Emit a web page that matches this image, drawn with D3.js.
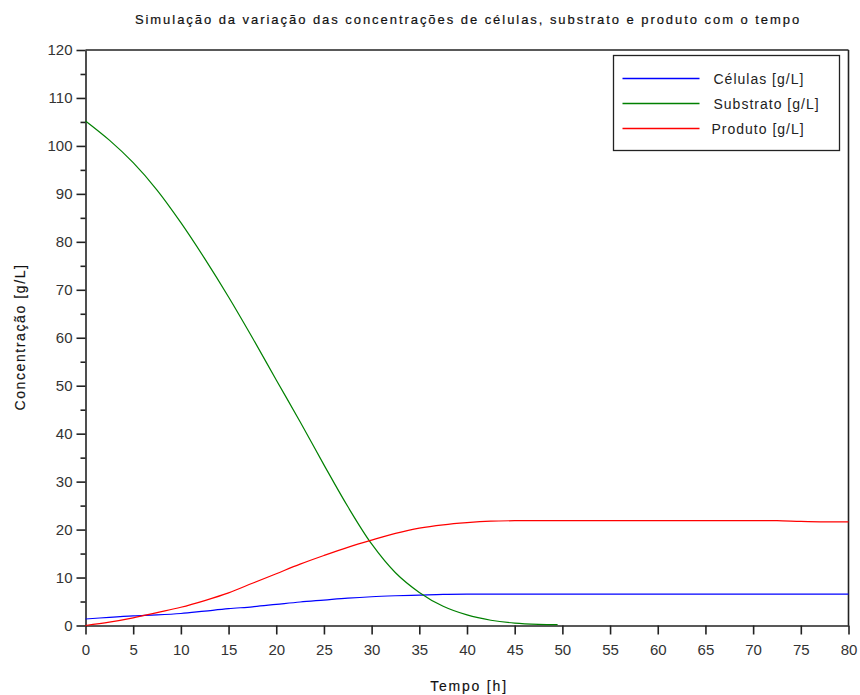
<!DOCTYPE html>
<html>
<head>
<meta charset="utf-8">
<script src="https://cdn.jsdelivr.net/npm/d3@7"></script>
<style>
  body { margin: 0; background: #fff; }
  svg { font-family: "Liberation Sans", Arial, sans-serif; }
  .tick text { font-size: 15px; fill: #333; }
  .tick line, .domain { stroke: #222; stroke-width: 1.6; }
</style>
</head>
<body>
<div class="chart"></div>
<script>
// tempo [h]
var tempo = [0, 2.5, 5, 7.5, 10, 12.5, 15, 17.5, 20, 22.5, 25, 27.5, 30, 32.5, 35, 37.5,
  40, 42.5, 45, 47.5, 50, 52.5, 55, 57.5, 60, 62.5, 65, 67.5, 70, 72.5, 75, 77.5, 80];
var tempoSubstrato = [0, 2.5, 5, 7.5, 10, 12.5, 15, 17.5, 20, 22.5, 25, 27.5, 30, 32.5,
  35, 37.5, 40, 42.5, 45, 47.5, 49.5];

var celulas = [1.35, 1.7, 2.0, 2.2, 2.5, 3.0, 3.5, 3.9, 4.4, 4.9, 5.3, 5.7, 6.0, 6.2, 6.35, 6.5,
  6.55, 6.55, 6.55, 6.55, 6.55, 6.55, 6.55, 6.55, 6.55, 6.55, 6.55, 6.55, 6.55, 6.55, 6.55, 6.55, 6.55];
var substrato = [105.2, 101.2, 96.5, 90.8, 84.0, 76.5, 68.5, 60.0, 51.2, 42.5, 33.5, 24.8,
  17.0, 11.0, 6.9, 4.0, 2.2, 1.1, 0.5, 0.25, 0.2];
var produto = [0, 0.7, 1.6, 2.7, 3.8, 5.2, 6.8, 8.8, 10.8, 12.8, 14.6, 16.3, 17.8, 19.2, 20.3,
  21.0, 21.45, 21.75, 21.85, 21.85, 21.85, 21.85, 21.85, 21.85, 21.85, 21.85, 21.85, 21.85,
  21.85, 21.85, 21.7, 21.6, 21.6];

var legendas = ["Células [g/L]", "Substrato [g/L]", "Produto [g/L]"];
var cores = ["#0000ff", "#008000", "#ff0000"];

var margin = { top: 50, right: 11.5, bottom: 69.5, left: 85.5 },
  width = 860 - margin.left - margin.right,
  height = 695 - margin.top - margin.bottom;

var svg = d3
  .select(".chart")
  .append("svg")
  .attr("width", 860)
  .attr("height", 695);

var g = svg
  .append("g")
  .attr("transform", "translate(" + margin.left + "," + margin.top + ")");

var x = d3.scaleLinear().domain([0, 80]).range([0, width]);
var y = d3.scaleLinear().domain([0, 120]).range([height, 0]);

// frame top / right
g.append("line").attr("x1", 0).attr("x2", width).attr("y1", 0).attr("y2", 0)
  .attr("stroke", "#222").attr("stroke-width", 1.6);
g.append("line").attr("x1", width).attr("x2", width).attr("y1", 0).attr("y2", height)
  .attr("stroke", "#222").attr("stroke-width", 1.6);

// minor y ticks
g.append("g")
  .attr("class", "minor")
  .call(d3.axisLeft(y).tickValues(d3.range(5, 120, 10)).tickSize(5).tickFormat(""))
  .select(".domain").remove();

g.append("g")
  .attr("class", "axis")
  .call(d3.axisLeft(y).tickValues(d3.range(0, 121, 10)).tickSize(9).tickPadding(4).tickSizeOuter(0));

g.append("g")
  .attr("class", "axis")
  .attr("transform", "translate(0," + height + ")")
  .call(d3.axisBottom(x).tickValues(d3.range(0, 81, 5)).tickSize(9).tickPadding(10).tickSizeOuter(0));

var line = d3.line()
  .x(function (d) { return x(d[0]); })
  .y(function (d) { return y(d[1]); })
  .curve(d3.curveCatmullRom.alpha(0.5));

var series = [
  d3.zip(tempo, celulas),
  d3.zip(tempoSubstrato, substrato),
  d3.zip(tempo, produto)
];

g.selectAll(".serie")
  .data(series)
  .enter()
  .append("path")
  .attr("class", "serie")
  .attr("d", line)
  .style("fill", "none")
  .style("stroke", function (d, i) { return cores[i]; })
  .attr("stroke-width", 1.2);

// title
svg.append("text")
  .attr("x", 468)
  .attr("y", 24)
  .attr("text-anchor", "middle")
  .style("font-size", "13px")
  .style("letter-spacing", "1.95px")
  .style("fill", "#111")
  .style("stroke", "#111")
  .style("stroke-width", 0.2)
  .text("Simulação da variação das concentrações de células, substrato e produto com o tempo");

svg.append("text")
  .attr("x", 469)
  .attr("y", 691)
  .attr("text-anchor", "middle")
  .style("font-size", "14px")
  .style("letter-spacing", "1.8px")
  .style("fill", "#111")
  .style("stroke", "#111")
  .style("stroke-width", 0.15)
  .text("Tempo [h]");

svg.append("text")
  .attr("transform", "translate(25,337) rotate(-90)")
  .attr("text-anchor", "middle")
  .style("font-size", "14px")
  .style("letter-spacing", "1.6px")
  .style("fill", "#111")
  .style("stroke", "#111")
  .style("stroke-width", 0.15)
  .text("Concentração [g/L]");

// legend
var legend = svg.append("g").attr("transform", "translate(613.5,55.5)");
legend.append("rect")
  .attr("width", 226)
  .attr("height", 95)
  .attr("fill", "#fff")
  .attr("stroke", "#222")
  .attr("stroke-width", 1.3);

var item = legend.selectAll(".item")
  .data(legendas)
  .enter()
  .append("g")
  .attr("class", "item")
  .attr("transform", function (d, i) { return "translate(0," + (23 + i * 25) + ")"; });

item.append("line")
  .attr("x1", 9).attr("x2", 86)
  .attr("stroke", function (d, i) { return cores[i]; })
  .attr("stroke-width", 1.3);

item.append("text")
  .attr("x", function (d, i) { return i === 2 ? 98 : 100; })
  .attr("y", 5)
  .style("font-size", "14px")
  .style("letter-spacing", "1px")
  .style("fill", "#222")
  .text(function (d) { return d; });
</script>
</body>
</html>
